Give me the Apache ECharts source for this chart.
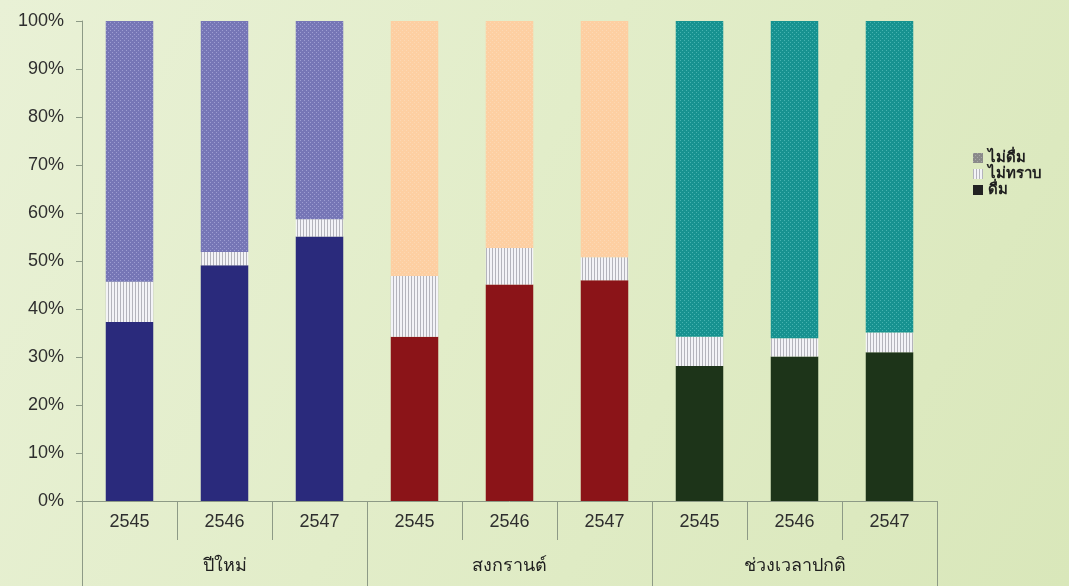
<!DOCTYPE html>
<html>
<head>
<meta charset="utf-8">
<script src="https://cdn.jsdelivr.net/npm/echarts@6/dist/echarts.min.js"></script>
<style>
html,body{margin:0;padding:0;}
#chart{width:1069px;height:586px;}
</style>
</head>
<body>
<div id="chart"></div>
<script>
// ---- data ----
const years = ['2545','2546','2547','2545','2546','2547','2545','2546','2547'];
const groups = ['ปีใหม่','สงกรานต์','ช่วงเวลาปกติ'];
const yTicks = [0,10,20,30,40,50,60,70,80,90,100];
const drink    = [37.3, 49.1, 55.1, 34.2, 45.1, 46.0, 28.1, 30.1, 31.0];
const unknown  = [8.4, 2.8, 3.6, 12.7, 7.6, 4.8, 6.1, 3.8, 4.1];
const notDrink = [54.3, 48.1, 41.3, 53.1, 47.3, 49.2, 65.8, 66.1, 64.9];
const seriesNames = {drink:'ดื่ม', unknown:'ไม่ทราบ', notDrink:'ไม่ดื่ม'};

// ---- patterns ----
function dotPattern(bg, dot){
  const c=document.createElement('canvas'); c.width=4; c.height=4;
  const g=c.getContext('2d'); g.fillStyle=bg; g.fillRect(0,0,4,4);
  g.fillStyle=dot; g.fillRect(0,0,1,1); g.fillRect(2,2,1,1);
  return {image:c, repeat:'repeat'};
}
function stripePattern(bg, line){
  const c=document.createElement('canvas'); c.width=3; c.height=3;
  const g=c.getContext('2d'); g.fillStyle=bg; g.fillRect(0,0,3,3);
  g.fillStyle=line; g.fillRect(0,0,1,3);
  return {image:c, repeat:'repeat'};
}
const drinkColors = ['#2a2a7c','#8b1418','#1d3419'];
const notDrinkColors = [dotPattern('#7676b6','#9d9dd2'), dotPattern('#fdcfa2','#fcd8b4'), dotPattern('#179290','#45b3b0')];
const stripe = stripePattern('#f3f3f7','#b4b4bc');

function groupOf(i){ return Math.floor(i/3); }

const chart = echarts.init(document.getElementById('chart'));
const FONT = '"Liberation Sans", Arial, sans-serif';
const axisGray = '#8d9a86';

chart.setOption({
  backgroundColor: {
    type:'linear', x:0, y:0, x2:1, y2:1,
    colorStops:[
      {offset:0, color:'#e9f1d6'},
      {offset:0.45, color:'#e2edc9'},
      {offset:1, color:'#d9e7ba'}
    ]
  },
  animation:false,
  textStyle:{fontFamily:FONT},
  grid:{left:82, right:132, top:21, bottom:85, containLabel:false},
  legend:{
    orient:'vertical', left:968, top:145,
    itemWidth:10, itemHeight:10, itemGap:0, itemStyle:{borderWidth:0},
    icon:'rect',
    textStyle:{fontSize:15, lineHeight:16, color:'#1f1f1f', fontWeight:'bold', fontFamily:FONT},
    data:[seriesNames.notDrink, seriesNames.unknown, seriesNames.drink]
  },
  xAxis:[
    {
      type:'category', data:years, position:'bottom',
      axisLine:{show:true, lineStyle:{color:axisGray, width:1}},
      axisTick:{show:true, interval:0, length:39, lineStyle:{color:axisGray}},
      axisLabel:{interval:0, fontSize:18, color:'#2e2e2e', margin:12, fontFamily:FONT}
    },
    {
      type:'category', data:groups, position:'bottom',
      axisLine:{show:false},
      axisTick:{show:true, interval:0, length:86, lineStyle:{color:axisGray}},
      axisLabel:{interval:0, fontSize:18, color:'#1f1f1f', margin:56, fontFamily:FONT}
    }
  ],
  yAxis:{
    type:'value', min:0, max:100, interval:10,
    axisLine:{show:true, lineStyle:{color:axisGray}},
    axisTick:{show:true, length:6, lineStyle:{color:axisGray}},
    splitLine:{show:false},
    axisLabel:{formatter:v=>v+'%', fontSize:18, color:'#2e2e2e', margin:18, fontFamily:FONT}
  },
  series:[
    {
      name:seriesNames.drink, type:'bar', stack:'s', barWidth:'50%',
      itemStyle:{color:'#222222'},
      data:drink.map((v,i)=>({value:v, itemStyle:{color:drinkColors[groupOf(i)]}}))
    },
    {
      name:seriesNames.unknown, type:'bar', stack:'s', barWidth:'50%',
      itemStyle:{color:stripe},
      data:unknown.map(v=>({value:v}))
    },
    {
      name:seriesNames.notDrink, type:'bar', stack:'s', barWidth:'50%',
      itemStyle:{color:dotPattern('#8a8a8a','#a8a8a8')},
      data:notDrink.map((v,i)=>({value:v, itemStyle:{color:notDrinkColors[groupOf(i)]}}))
    }
  ]
});
</script>
</body>
</html>
